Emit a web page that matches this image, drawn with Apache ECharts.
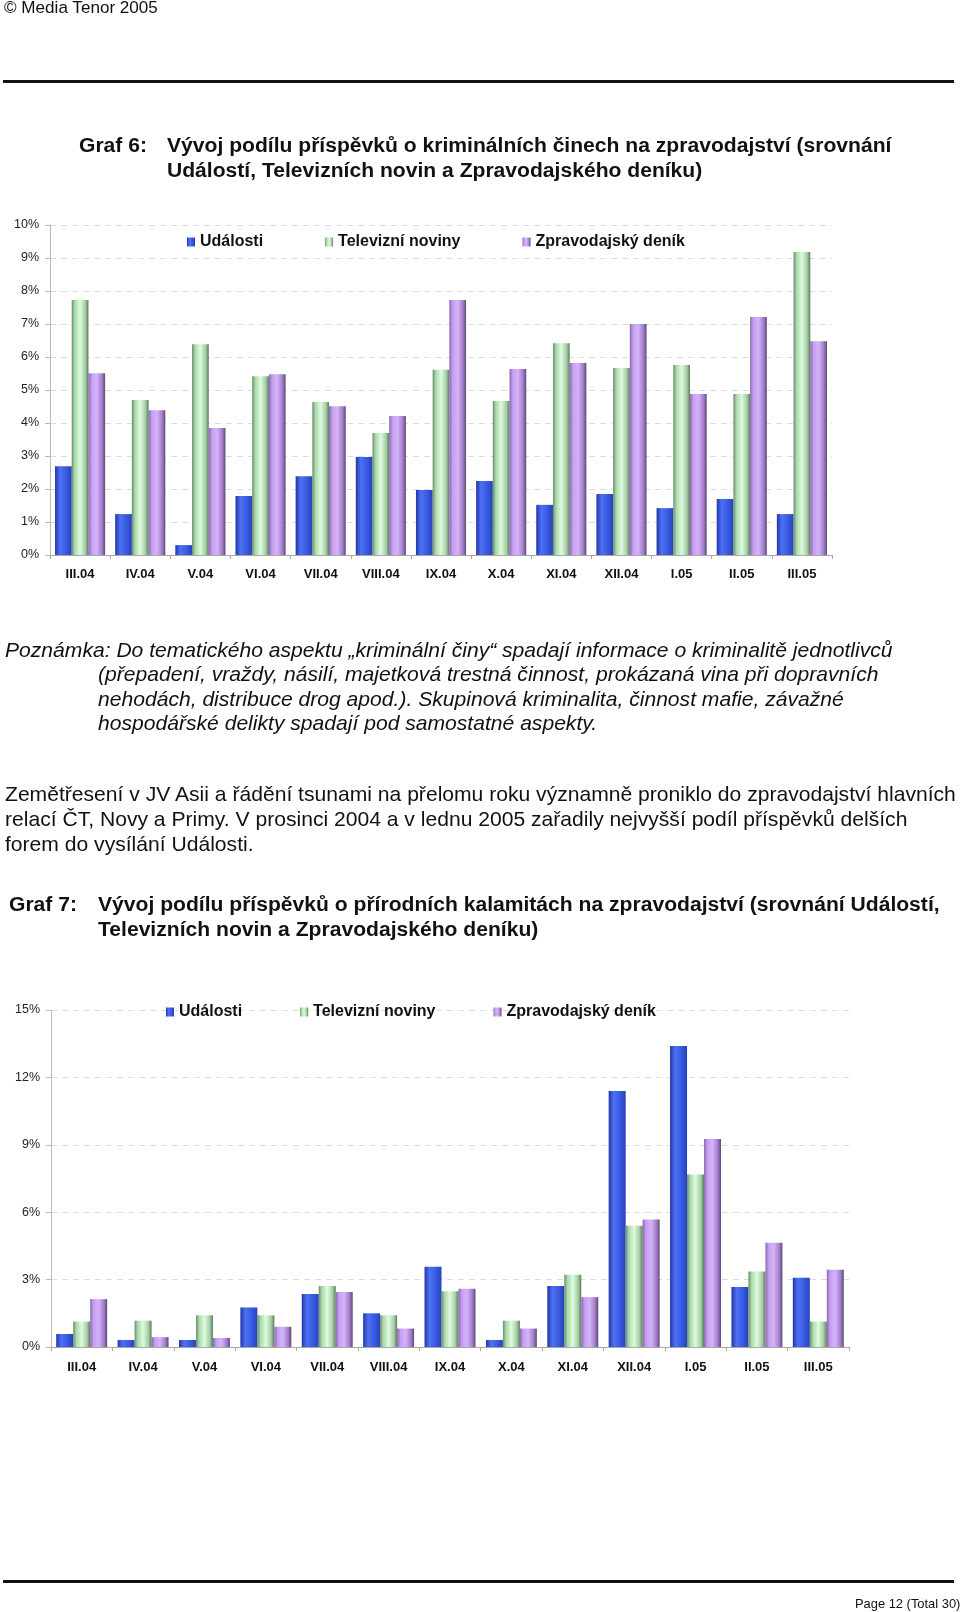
<!DOCTYPE html>
<html>
<head>
<meta charset="utf-8">
<script src="https://cdn.jsdelivr.net/npm/echarts@6/dist/echarts.min.js"></script>
<style>
  html, body { margin: 0; padding: 0; background: #fff; }
  body { width: 960px; height: 1612px; position: relative; overflow: hidden;
         font-family: "Liberation Sans", Arial, sans-serif; color: #111; }
  #chart { position: absolute; left: 0; top: 0; width: 960px; height: 1612px; }
  .t { position: absolute; white-space: nowrap; height: 24px; line-height: 24px; z-index: 2; }
  .rule { position: absolute; left: 3px; width: 951px; height: 3px; background: #111; }
  .title { font-weight: bold; font-size: 21.1px; }
  .body { font-size: 21.1px; }
  .it { font-style: italic; }
</style>
</head>
<body>
<div id="chart"></div>

<div class="t" style="left:4px; top:-4px; font-size:17.1px;">© Media Tenor 2005</div>
<div class="rule" style="top:80px;"></div>

<div class="t title" style="left:79px; top:133px;">Graf 6:</div>
<div class="t title" style="left:167px; top:133px;">Vývoj podílu příspěvků o kriminálních činech na zpravodajství (srovnání</div>
<div class="t title" style="left:167px; top:158px;">Událostí, Televizních novin a Zpravodajského deníku)</div>

<div class="t body it" style="left:5px; top:638px;">Poznámka: Do tematického aspektu „kriminální činy“ spadají informace o kriminalitě jednotlivců</div>
<div class="t body it" style="left:98px; top:662px;">(přepadení, vraždy, násilí, majetková trestná činnost, prokázaná vina při dopravních</div>
<div class="t body it" style="left:98px; top:687px;">nehodách, distribuce drog apod.). Skupinová kriminalita, činnost mafie, závažné</div>
<div class="t body it" style="left:98px; top:711px;">hospodářské delikty spadají pod samostatné aspekty.</div>

<div class="t body" style="left:5px; top:782px;">Zemětřesení v JV Asii a řádění tsunami na přelomu roku významně proniklo do zpravodajství hlavních</div>
<div class="t body" style="left:5px; top:807px;">relací ČT, Novy a Primy. V prosinci 2004 a v lednu 2005 zařadily nejvyšší podíl příspěvků delších</div>
<div class="t body" style="left:5px; top:832px;">forem do vysílání Události.</div>

<div class="t title" style="left:9px; top:892px;">Graf 7:</div>
<div class="t title" style="left:98px; top:892px;">Vývoj podílu příspěvků o přírodních kalamitách na zpravodajství (srovnání Událostí,</div>
<div class="t title" style="left:98px; top:917px;">Televizních novin a Zpravodajského deníku)</div>

<div class="rule" style="top:1580px;"></div>
<div class="t" style="left:855px; top:1592px; font-size:12.9px;">Page 12 (Total 30)</div>

<script>
// ---- data ----
var categories = ['III.04','IV.04','V.04','VI.04','VII.04','VIII.04','IX.04','X.04','XI.04','XII.04','I.05','II.05','III.05'];
var seriesNames = ['Události','Televizní noviny','Zpravodajský deník'];

// Graf 6: kriminální činy (%)
var crimeUdalosti      = [2.69,1.24,0.30,1.79,2.39,2.97,1.97,2.24,1.52,1.85,1.42,1.70,1.24];
var crimeTelevizni     = [7.73,4.70,6.39,5.42,4.64,3.70,5.61,4.67,6.42,5.67,5.76,4.88,9.18];
var crimeZpravodajsky  = [5.51,4.39,3.85,5.48,4.51,4.21,7.73,5.64,5.82,7.00,4.88,7.21,6.48];

// Graf 7: přírodní kalamity (%)
var disasterUdalosti     = [0.58,0.31,0.31,1.76,2.36,1.50,3.57,0.31,2.71,11.40,13.40,2.67,3.08];
var disasterTelevizni    = [1.13,1.17,1.41,1.41,2.71,1.41,2.48,1.17,3.22,5.40,7.68,3.36,1.13];
var disasterZpravodajsky = [2.13,0.44,0.40,0.90,2.45,0.82,2.59,0.82,2.22,5.68,9.26,4.64,3.44];

// y-axis scales
var crimeAxis = {min: 0, max: 10, interval: 1};
var disasterAxis = {min: 0, max: 15, interval: 3};

// ---- styles ----
function grad(stops) {
  return new echarts.graphic.LinearGradient(0, 0, 1, 0, stops.map(function (s) { return {offset: s[0], color: s[1]}; }));
}
var colBlue = grad([[0,'#2236a6'],[0.3,'#4e70f4'],[0.65,'#3a5ce2'],[1,'#2542bc']]);
var colGreen = grad([[0,'#6a8a6a'],[0.18,'#a9d9a9'],[0.5,'#defbde'],[0.82,'#a4cca4'],[1,'#587858']]);
var colPurple = grad([[0,'#8868ae'],[0.2,'#c6a0f0'],[0.5,'#d6b2fb'],[0.82,'#a07cc6'],[1,'#5c4676']]);
var colors = [colBlue, colGreen, colPurple];

var grids = [
  {left: 50, top: 225, width: 782, height: 330},
  {left: 51, top: 1010, width: 798, height: 337}
];

function xAxis(gi, margin) {
  return {
    type: 'category', gridIndex: gi, data: categories,
    axisLine: {lineStyle: {color: '#a8a8a8', width: 1}},
    axisTick: {show: true, length: 4, lineStyle: {color: '#a8a8a8'}},
    axisLabel: {interval: 0, margin: margin, fontFamily: 'Liberation Sans, Arial', fontWeight: 'bold', fontSize: 13, color: '#111'}
  };
}
function yAxis(gi, ax) {
  return {
    type: 'value', gridIndex: gi, min: ax.min, max: ax.max, interval: ax.interval,
    axisLine: {show: true, lineStyle: {color: '#b8b8b8', width: 1}},
    axisTick: {show: true, length: 5, lineStyle: {color: '#b8b8b8'}},
    axisLabel: {formatter: '{value}%', margin: 11, fontFamily: 'Liberation Sans, Arial', fontSize: 12.5, color: '#222'},
    splitLine: {show: true, lineStyle: {type: [6, 5], color: '#dcdcdc', width: 1}}
  };
}
function bars(gi, data, i, gap) {
  return {
    name: seriesNames[i], type: 'bar', xAxisIndex: gi, yAxisIndex: gi, data: data,
    barGap: '0%', barCategoryGap: gap,
    itemStyle: {color: colors[i]},
    emphasis: {disabled: true},
    animation: false
  };
}
function legend(left, top, gap) {
  return {
    data: seriesNames, left: left, top: top, itemGap: gap, itemWidth: 8, itemHeight: 9, icon: 'rect',
    padding: 0, selectedMode: false,
    textStyle: {fontFamily: 'Liberation Sans, Arial', fontWeight: 'bold', fontSize: 16, color: '#111'}
  };
}

var chart = echarts.init(document.getElementById('chart'), null, {renderer: 'canvas'});
chart.setOption({
  animation: false,
  backgroundColor: 'transparent',
  grid: grids,
  legend: [legend(187, 234, 62), legend(166, 1004, 58)],
  xAxis: [xAxis(0, 13), xAxis(1, 14)],
  yAxis: [yAxis(0, crimeAxis), yAxis(1, disasterAxis)],
  series: [
    bars(0, crimeUdalosti, 0, '16.7%'),
    bars(0, crimeTelevizni, 1, '16.7%'),
    bars(0, crimeZpravodajsky, 2, '16.7%'),
    bars(1, disasterUdalosti, 0, '17%'),
    bars(1, disasterTelevizni, 1, '17%'),
    bars(1, disasterZpravodajsky, 2, '17%')
  ]
});
</script>
</body>
</html>
